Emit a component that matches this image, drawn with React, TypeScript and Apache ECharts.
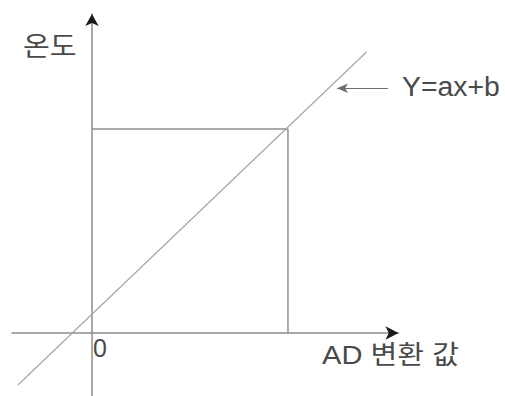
import React, { useEffect, useRef } from "react";
import * as echarts from "echarts";

// Axis extents (data units)
const xRange = [-4.08, 15.64];
const yRange = [-3.09, 15.64];
// The straight line Y = ax + b (endpoints)
const lineData: [number, number][] = [
  [-3.78, -2.55],
  [14.02, 13.79],
];
// Reading guide: from the y-axis at the temperature to the point, then down to the AD value
const guideData: [number, number][] = [
  [0, 10],
  [10, 10],
  [10, 0],
];
// Pointer arrow next to the equation label
const pointerFrom: [number, number] = [15.1, 12.0];
const pointerTo: [number, number] = [12.5, 12.0];
const originLabel = "0";

const equationText = "Y=ax+b";
const yName = "온도";
const xName = "AD 변환 값";

const FONT = "'Liberation Sans', 'Noto Sans CJK KR', sans-serif";
const TEXT_COLOR = "#4a4a4a";

export default function App() {
  const ref = useRef<HTMLDivElement>(null);
  useEffect(() => {
    if (!ref.current) return;
    const chart = echarts.init(ref.current, undefined, { renderer: "svg" });
    chart.setOption({
      animation: false,
      backgroundColor: "#ffffff",
      grid: {
        left: 12,
        top: 14,
        width: 386.5,
        height: 382,
        containLabel: false,
        outerBoundsMode: "none",
      },
      xAxis: {
        type: "value",
        min: xRange[0],
        max: xRange[1],
        splitLine: { show: false },
        axisTick: { show: false },
        axisLabel: { show: false },
        axisLine: { onZero: true, lineStyle: { color: "#8c8c8c", width: 1.5 } },
      },
      yAxis: {
        type: "value",
        min: yRange[0],
        max: yRange[1],
        splitLine: { show: false },
        axisTick: { show: false },
        axisLabel: { show: false },
        axisLine: { onZero: true, lineStyle: { color: "#8c8c8c", width: 1.5 } },
      },
      series: [
        {
          type: "line",
          data: guideData,
          symbol: "none",
          lineStyle: { color: "#8f8f8f", width: 1.5 },
          silent: true,
          z: 3,
        },
        {
          type: "line",
          data: lineData,
          symbol: "none",
          lineStyle: { color: "#a6a6a6", width: 1.2 },
          silent: true,
          z: 3,
          markLine: {
            silent: true,
            symbol: ["none", "arrow"],
            symbolSize: [7, 11],
            label: { show: false },
            lineStyle: { color: "#6e6e6e", width: 1.2, type: "solid" },
            itemStyle: { color: "#222" },
            data: [[{ coord: pointerFrom }, { coord: pointerTo }]],
          },
          markPoint: {
            silent: true,
            symbol: "arrow",
            label: { show: false },
            itemStyle: { color: "#1a1a1a" },
            data: [
              { coord: [xRange[1], 0], symbolSize: [10, 13], symbolRotate: -90 },
              { coord: [0, yRange[1]], symbolSize: [10, 12], symbolRotate: 0 },
            ],
          },
        },
      ],
      graphic: [
        {
          type: "text",
          left: 23,
          top: 33,
          scaleX: 1.08,
          style: { text: yName, fontSize: 27, fill: TEXT_COLOR, fontFamily: FONT },
        },
        {
          type: "text",
          left: 322,
          top: 342,
          scaleX: 1.12,
          style: { text: xName, fontSize: 26, fill: TEXT_COLOR, fontFamily: FONT },
        },
        {
          type: "text",
          left: 93,
          top: 335,
          style: { text: originLabel, fontSize: 25, fill: TEXT_COLOR, fontFamily: FONT },
        },
        {
          type: "text",
          left: 402,
          top: 73,
          scaleX: 1.05,
          style: { text: equationText, fontSize: 27, fill: TEXT_COLOR, fontFamily: FONT },
        },
      ],
    });
    return () => chart.dispose();
  }, []);
  return (
    <div
      ref={ref}
      style={{ position: "fixed", left: 0, top: 0, width: 505, height: 396, background: "#fff" }}
    />
  );
}
